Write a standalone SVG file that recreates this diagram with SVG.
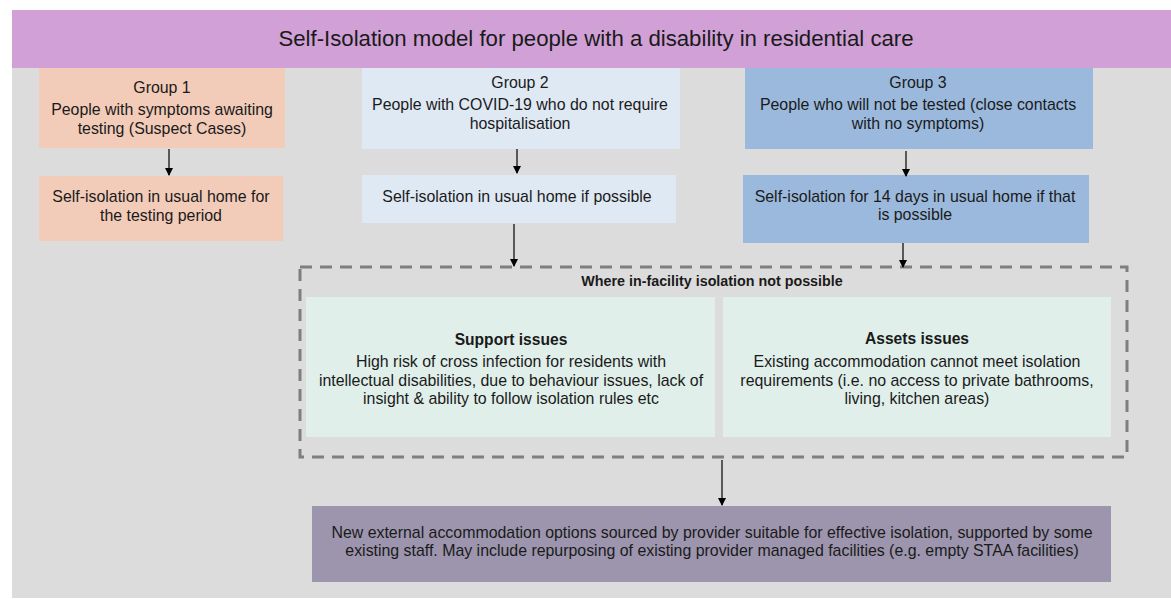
<svg xmlns="http://www.w3.org/2000/svg" width="1171" height="599" viewBox="0 0 1171 599">
<defs>
<marker id="ah" markerWidth="8" markerHeight="8" refX="7" refY="4" orient="auto" markerUnits="userSpaceOnUse">
<path d="M0,0 L8,4 L0,8 z" fill="#000"/>
</marker>
<style>
text{font-family:"Liberation Sans",Arial,sans-serif;fill:#1a1a1a;text-anchor:middle}
.t{font-size:15.9px}
.b{font-size:15.6px;font-weight:bold}
.conn line{stroke:#000;stroke-width:1.2;marker-end:url(#ah)}
</style>
</defs>
<rect x="12" y="10" width="1159" height="588" fill="#dcdcdc"/>
<g id="title">
<rect x="12" y="10" width="1159" height="58" fill="#d0a0d7"/>
<text x="596" y="46" style="font-size:22.2px">Self-Isolation model for people with a disability in residential care</text>
</g>
<g id="group1">
<rect x="39" y="68" width="246" height="80" fill="#f2cbb9"/>
<text class="t" x="162" y="93">Group 1</text>
<text class="t" x="162" y="115">People with symptoms awaiting</text>
<text class="t" x="162" y="134">testing (Suspect Cases)</text>
</g>
<g id="group1b">
<rect x="39" y="176" width="244" height="65" fill="#f2cbb9"/>
<text class="t" x="161" y="202">Self-isolation in usual home for</text>
<text class="t" x="161" y="221">the testing period</text>
</g>
<g id="group2">
<rect x="362" y="68" width="318" height="81" fill="#dfe9f4"/>
<text class="t" x="520" y="88">Group 2</text>
<text class="t" x="520" y="110">People with COVID-19 who do not require</text>
<text class="t" x="520" y="129">hospitalisation</text>
</g>
<g id="group2b">
<rect x="362" y="175" width="314" height="48" fill="#dfe9f4"/>
<text class="t" x="517" y="202">Self-isolation in usual home if possible</text>
</g>
<g id="group3">
<rect x="745" y="68" width="348" height="81" fill="#9bb9dc"/>
<text class="t" x="918" y="88">Group 3</text>
<text class="t" x="918" y="110">People who will not be tested (close contacts</text>
<text class="t" x="918" y="129">with no symptoms)</text>
</g>
<g id="group3b">
<rect x="743" y="175" width="346" height="68" fill="#9bb9dc"/>
<text class="t" x="915" y="202">Self-isolation for 14 days in usual home if that</text>
<text class="t" x="915" y="220">is possible</text>
</g>
<g id="container">
<rect x="300" y="267" width="827" height="190" fill="none" stroke="#7f7f7f" stroke-width="3" stroke-dasharray="12,8"/>
<text x="712" y="286" style="font-size:14.3px;font-weight:bold">Where in-facility isolation not possible</text>
</g>
<g id="support">
<rect x="306" y="297" width="409" height="140" fill="#e0efea"/>
<text class="b" x="511" y="345">Support issues</text>
<text class="t" x="511" y="367">High risk of cross infection for residents with</text>
<text class="t" x="511" y="386">intellectual disabilities, due to behaviour issues, lack of</text>
<text class="t" x="511" y="404">insight &amp; ability to follow isolation rules etc</text>
</g>
<g id="assets">
<rect x="723" y="297" width="388" height="140" fill="#e0efea"/>
<text class="b" x="917" y="344">Assets issues</text>
<text class="t" x="917" y="367">Existing accommodation cannot meet isolation</text>
<text class="t" x="917" y="386">requirements (i.e. no access to private bathrooms,</text>
<text class="t" x="917" y="404">living, kitchen areas)</text>
</g>
<g id="outcome">
<rect x="312" y="506" width="799" height="76" fill="#9c95ad"/>
<text class="t" x="712" y="538">New external accommodation options sourced by provider suitable for effective isolation, supported by some</text>
<text class="t" x="712" y="556">existing staff. May include repurposing of existing provider managed facilities (e.g. empty STAA facilities)</text>
</g>
<g class="conn">
<line x1="169" y1="149" x2="169" y2="175"/>
<line x1="517" y1="149" x2="517" y2="173"/>
<line x1="514" y1="224" x2="514" y2="266"/>
<line x1="906" y1="151" x2="906" y2="176"/>
<line x1="903" y1="243" x2="903" y2="267"/>
<line x1="722" y1="460" x2="722" y2="505"/>
</g>
</svg>
